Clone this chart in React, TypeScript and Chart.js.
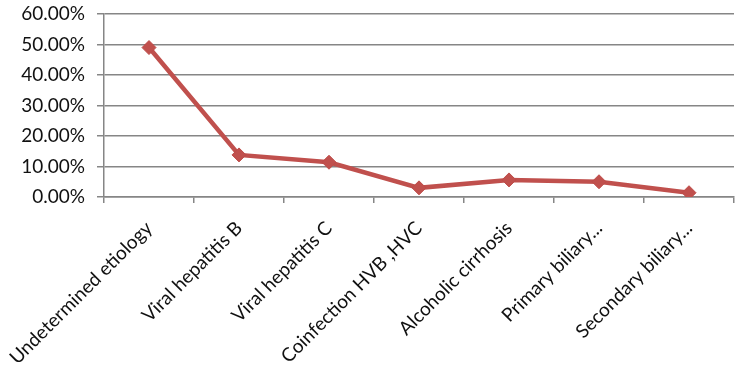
import React, { useEffect, useRef } from "react";
import { Chart, registerables } from "chart.js";

Chart.register(...registerables);

const categories = [
  "Undetermined etiology",
  "Viral hepatitis B",
  "Viral hepatitis C",
  "Coinfection HVB ,HVC",
  "Alcoholic cirrhosis",
  "Primary biliary...",
  "Secondary biliary...",
];
const values = [49.0, 13.8, 11.4, 3.0, 5.6, 5.0, 1.4];
const yMax = 60;
const yStep = 10;

export default function App() {
  const ref = useRef<HTMLCanvasElement | null>(null);
  useEffect(() => {
    document.body.style.margin = "0";
    const ctx = ref.current!;
    const font = { family: "Lato, 'Noto Sans', sans-serif", size: 19 };
    const chart = new Chart(ctx, {
      type: "line",
      data: {
        labels: categories,
        datasets: [
          {
            data: values,
            borderColor: "#C0504D",
            backgroundColor: "#C0504D",
            borderWidth: 4.5,
            pointStyle: "rectRot",
            pointRadius: 7,
            pointBorderWidth: 1,
            pointBorderColor: "#BE4B48",
            pointBackgroundColor: "#C0504D",
            tension: 0,
          },
        ],
      },
      options: {
        responsive: false,
        animation: false,
        layout: { padding: { top: 14, right: 7, left: 0, bottom: 0 } },
        plugins: { legend: { display: false }, tooltip: { enabled: false } },
        scales: {
          x: {
            offset: true,
            grid: {
              drawOnChartArea: false,
              drawTicks: true,
              tickLength: 6,
              color: "#868686",
              lineWidth: 1.5,
              offset: true,
            },
            border: { color: "#868686", width: 1.5 },
            ticks: {
              color: "#111",
              font,
              minRotation: 45,
              maxRotation: 45,
              autoSkip: false,
              padding: 14,
            },
            afterFit: (s: any) => {
              s.height = 174;
              s.paddingLeft = 0;
              s.paddingRight = 0;
            },
          },
          y: {
            min: 0,
            max: yMax,
            grid: {
              color: "#868686",
              lineWidth: 1.5,
              tickLength: 7,
            },
            border: { color: "#868686", width: 1.5 },
            ticks: {
              stepSize: yStep,
              color: "#111",
              font,
              padding: 12,
              callback: (v: any) => Number(v).toFixed(2) + "%",
            },
            afterFit: (s: any) => {
              s.width = 104;
              s.paddingTop = 0;
              s.paddingBottom = 0;
            },
          },
        },
      },
    });
    return () => chart.destroy();
  }, []);
  return (
    <div style={{ width: 742, height: 371 }}>
      <canvas ref={ref} width={742} height={371} />
    </div>
  );
}
